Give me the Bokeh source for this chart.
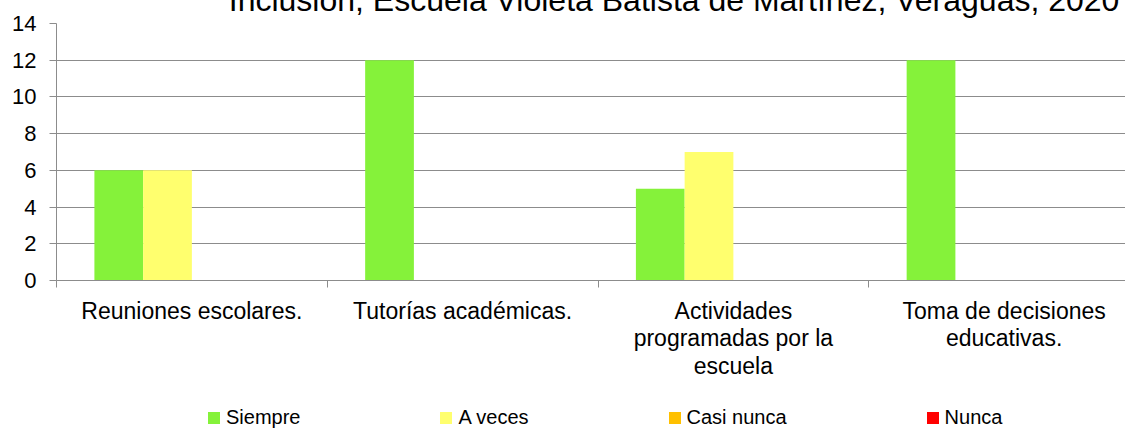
from bokeh.plotting import figure
from bokeh.models import Range1d, FixedTicker, Legend, LegendItem, LinearAxis
from bokeh.layouts import column
from bokeh.embed import file_html
from bokeh.resources import INLINE

# ---- data ----
categories = ["Reuniones escolares.", "Tutorías académicas.",
              "Actividades\nprogramadas por la\nescuela",
              "Toma de decisiones\neducativas."]
series = ["Siempre", "A veces", "Casi nunca", "Nunca"]
siempre = [6, 12, 5, 12]
a_veces = [6, 0, 7, 0]
casi_nunca = [0, 0, 0, 0]
nunca = [0, 0, 0, 0]
y_ticks = [0, 2, 4, 6, 8, 10, 12, 14]
title_text = "Inclusión, Escuela Violeta Batista de Martínez, Veraguas, 2020"

colors = ["#85F23A", "#FFFF6E", "#FFC000", "#FF0000"]
FONT = "Liberation Sans"
GRID = "#8C8C8C"

SHIFT = 30                      # canvas starts above the window top (title is cut off)
W = 1125
MAIN_BOTTOM_PAGE = 395
LEG_H = 429 - MAIN_BOTTOM_PAGE
H = MAIN_BOTTOM_PAGE + SHIFT
LEFT, TOP = 56, 23 + SHIFT
BOTTOM = MAIN_BOTTOM_PAGE - 280
CAT_PX = 270.75
x_end = (W - LEFT) / CAT_PX

p = figure(width=W, height=H, output_backend="svg", toolbar_location=None,
           x_range=Range1d(0, x_end), y_range=Range1d(0, 14),
           min_border_left=LEFT, min_border_right=0, min_border_top=TOP,
           min_border_bottom=BOTTOM, x_axis_type=None)
p.outline_line_color = None
p.background_fill_color = "white"
p.border_fill_color = "white"

# bars
vals = [siempre, a_veces, casi_nunca, nunca]
bw = 0.18
offsets = [-1.5 * bw, -0.5 * bw, 0.5 * bw, 1.5 * bw]
for k, (vs, c) in enumerate(zip(vals, colors)):
    xs = [i + 0.5 + offsets[k] for i in range(len(categories))]
    p.vbar(x=xs, top=vs, bottom=0, width=bw, fill_color=c, line_color=None)

# y axis
yax = p.yaxis[0]
yax.ticker = FixedTicker(ticks=y_ticks)
yax.axis_line_color = GRID
yax.major_tick_line_color = GRID
yax.major_tick_out = 7
yax.major_tick_in = 0
yax.minor_tick_line_color = None
yax.major_label_text_font = FONT
yax.major_label_text_font_size = "22px"
yax.major_label_text_color = "black"
yax.major_label_standoff = 13

p.ygrid.ticker = FixedTicker(ticks=y_ticks)
p.ygrid.grid_line_color = GRID
p.xgrid.grid_line_color = None

# x axis: labels at category centres, tick marks at boundaries
centers = [i + 0.5 for i in range(len(categories))]
bounds = [i for i in range(len(categories) + 1)]
xax = LinearAxis(ticker=FixedTicker(ticks=centers, minor_ticks=bounds))
xax.major_label_overrides = {c: lab for c, lab in zip(centers, categories)}
xax.axis_line_color = GRID
xax.major_tick_line_color = None
xax.major_tick_out = 7
xax.major_tick_in = 0
xax.minor_tick_line_color = GRID
xax.minor_tick_out = 7
xax.minor_tick_in = 0
xax.major_label_text_font = FONT
xax.major_label_text_font_size = "23px"
xax.major_label_text_color = "black"
xax.major_label_standoff = 10
xax.major_label_text_line_height = 1.07
p.add_layout(xax, "below")

# title: drawn as the single label of an axis above the frame
title_x = 2.281
tax = LinearAxis(ticker=FixedTicker(ticks=[title_x], minor_ticks=[]))
tax.major_label_overrides = {title_x: title_text}
tax.axis_line_color = None
tax.major_tick_line_color = None
tax.minor_tick_line_color = None
tax.major_tick_out = 0
tax.major_tick_in = 0
tax.major_label_standoff = 6
tax.major_label_text_font = FONT
tax.major_label_text_font_size = "32px"
tax.major_label_text_color = "black"
p.add_layout(tax, "above")

# legend strip (separate small figure below the chart)
q = figure(width=W, height=LEG_H, output_backend="svg", toolbar_location=None,
           x_range=Range1d(0, 1), y_range=Range1d(0, 1),
           min_border_left=0, min_border_right=0, min_border_top=0,
           min_border_bottom=0, x_axis_type=None, y_axis_type=None)
q.outline_line_color = None
q.xgrid.grid_line_color = None
q.ygrid.grid_line_color = None
q.background_fill_color = "white"
q.border_fill_color = "white"
# off-range proxies, used only for the legend swatches
leg_renderers = [q.vbar(x=[-10], top=[-10], bottom=[-11], width=0.1,
                        fill_color=c, line_color=None)
                 for c in colors]
items = [LegendItem(label=s, renderers=[r]) for s, r in zip(series, leg_renderers)]
legend = Legend(items=items, orientation="horizontal", location=(150, 0),
                spacing=138, glyph_width=15, glyph_height=15, label_standoff=5,
                padding=0, margin=0, border_line_color=None,
                background_fill_alpha=0, label_text_font=FONT,
                label_text_font_size="20px", label_text_color="black")
q.add_layout(legend)

layout = column(p, q, spacing=0)
layout.styles = {"position": "absolute", "top": f"-{SHIFT}px", "left": "0px"}

open("out.html", "w").write(file_html(layout, INLINE))
